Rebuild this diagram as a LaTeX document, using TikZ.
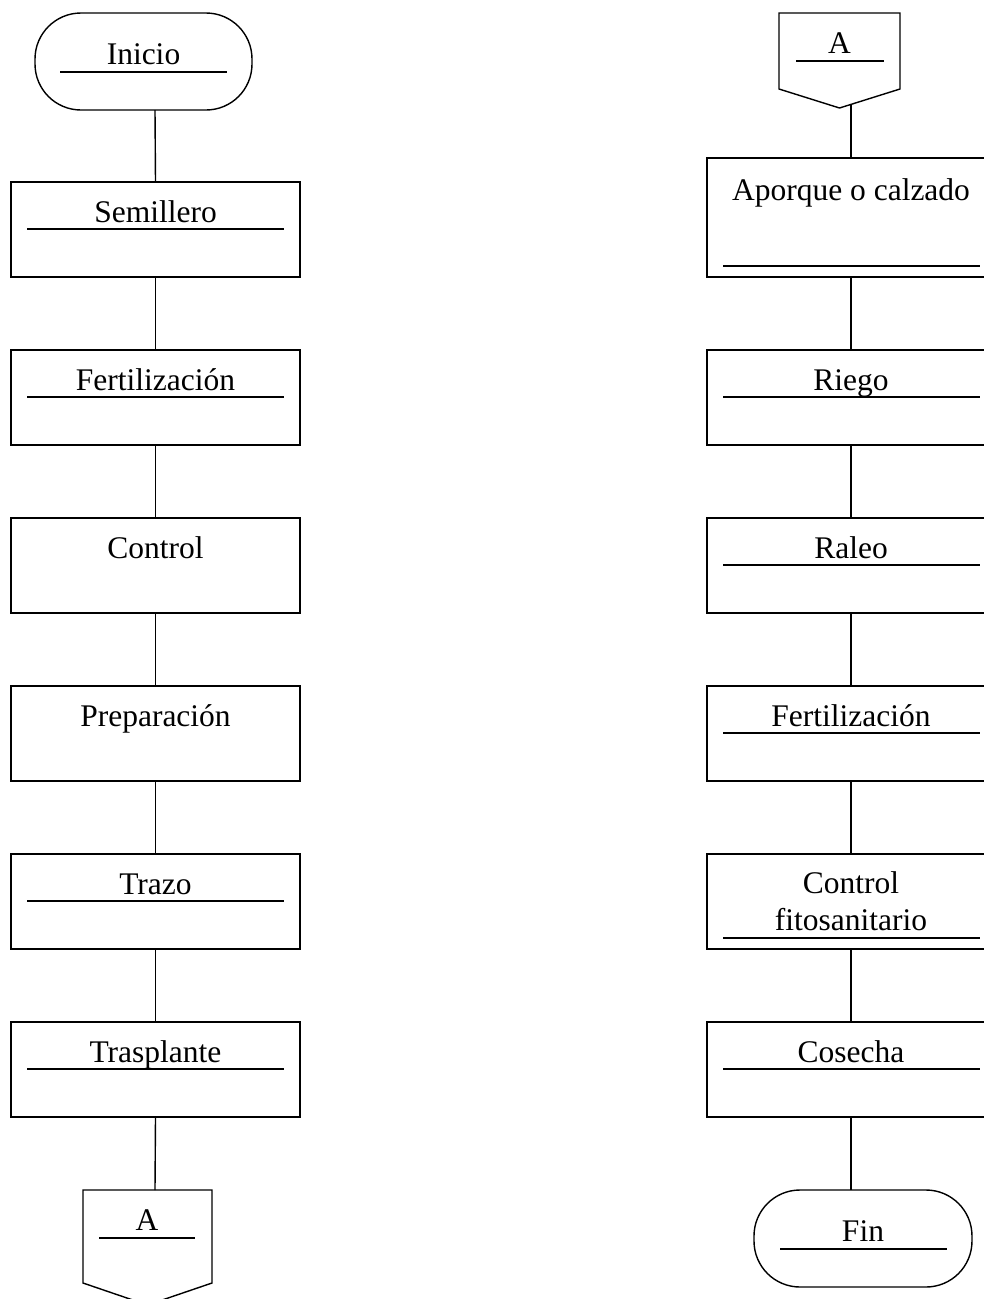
\documentclass[tikz,border=0pt]{standalone}
\usepackage{fontspec}
\setmainfont{Liberation Serif}
\begin{document}
\begin{tikzpicture}[x=1pt,y=-1pt,
  box/.style={draw,line width=1.4pt,minimum width=289pt,minimum height=95pt,anchor=north west,inner sep=0pt,outer sep=0pt},
  rbox/.style={box,minimum width=300pt},
  txt/.style={anchor=base,inner sep=0pt,font=\fontsize{31.5}{34}\selectfont,align=center},
  uline/.style={line width=1.9pt},
  conn/.style={line width=1.4pt},
  term/.style={draw,line width=1.4pt,rounded corners=46pt}]
\useasboundingbox (0,0) rectangle (983,1299);
% ---------- left column ----------
\draw[term] (35,13) rectangle (252,110);
\coordinate (ini) at (155,110);
\node[txt] (tini) at (143.5,64) {Inicio};
\draw[uline] (60,72) -- (227,72);

\node[box] (b1) at (11,182) {};
\node[box] (b2) at (11,350) {};
\node[box] (b3) at (11,518) {};
\node[box] (b4) at (11,686) {};
\node[box] (b5) at (11,854) {};
\node[box] (b6) at (11,1022) {};

\node[txt] (t1) at ([yshift=-40pt]b1.north) {Semillero};
\node[txt] (t2) at ([yshift=-40pt]b2.north) {Fertilización};
\node[txt] (t3) at ([yshift=-40pt]b3.north) {Control};
\node[txt] (t4) at ([yshift=-40pt]b4.north) {Preparación};
\node[txt] (t5) at ([yshift=-40pt]b5.north) {Trazo};
\node[txt] (t6) at ([yshift=-40pt]b6.north) {Trasplante};
\foreach \b in {b1,b2,b5,b6}{
  \draw[uline] ([xshift=16pt,yshift=-47pt]\b.north west) -- ([xshift=-16pt,yshift=-47pt]\b.north east);
}

% left off-page connector A
\draw[conn] (83,1190) -- (212,1190) -- (212,1283) -- (147.5,1305) -- (83,1283) -- cycle;
\coordinate (la) at (155,1190);
\node[txt] (tla) at (147,1230) {A};
\draw[uline] (99,1238) -- (195,1238);

\draw[conn] (ini) -- (b1.north);
\draw[conn] (b1.south) -- (b2.north);
\draw[conn] (b2.south) -- (b3.north);
\draw[conn] (b3.south) -- (b4.north);
\draw[conn] (b4.south) -- (b5.north);
\draw[conn] (b5.south) -- (b6.north);
\draw[conn] (b6.south) -- (la);

% ---------- right column ----------
\draw[conn] (779,13) -- (900,13) -- (900,89) -- (839.5,108) -- (779,89) -- cycle;
\coordinate (ra) at (851,105);
\node[txt] (tra) at (839.5,53) {A};
\draw[uline] (796,61) -- (884,61);

\node[rbox,minimum height=119pt] (r1) at (707,158) {};
\node[rbox] (r2) at (707,350) {};
\node[rbox] (r3) at (707,518) {};
\node[rbox] (r4) at (707,686) {};
\node[rbox] (r5) at (707,854) {};
\node[rbox] (r6) at (707,1022) {};
\coordinate (x1) at (851,158);
\coordinate (y1) at (851,277);
\coordinate (x2) at (851,350); \coordinate (y2) at (851,445);
\coordinate (x3) at (851,518); \coordinate (y3) at (851,613);
\coordinate (x4) at (851,686); \coordinate (y4) at (851,781);
\coordinate (x5) at (851,854); \coordinate (y5) at (851,949);
\coordinate (x6) at (851,1022); \coordinate (y6) at (851,1117);

\node[txt] (u1) at (851,200) {Aporque o calzado};
\node[txt] (u2) at (851,390) {Riego};
\node[txt] (u3) at (851,558) {Raleo};
\node[txt] (u4) at (851,726) {Fertilización};
\node[txt] (u5a) at (851,893) {Control};
\node[txt] (u5b) at (851,930) {fitosanitario};
\node[txt] (u6) at (851,1062) {Cosecha};
\draw[uline] (723,266) -- (980,266);
\draw[uline] (723,397) -- (980,397);
\draw[uline] (723,565) -- (980,565);
\draw[uline] (723,733) -- (980,733);
\draw[uline] (723,938) -- (980,938);
\draw[uline] (723,1069) -- (980,1069);

\draw[term] (754,1190) rectangle (972,1287);
\coordinate (fin) at (851,1190);
\node[txt] (tfin) at (863,1241) {Fin};
\draw[uline] (780,1249) -- (947,1249);

\draw[conn] (ra) -- (x1);
\draw[conn] (y1) -- (x2);
\draw[conn] (y2) -- (x3);
\draw[conn] (y3) -- (x4);
\draw[conn] (y4) -- (x5);
\draw[conn] (y5) -- (x6);
\draw[conn] (y6) -- (fin);
\end{tikzpicture}
\end{document}
